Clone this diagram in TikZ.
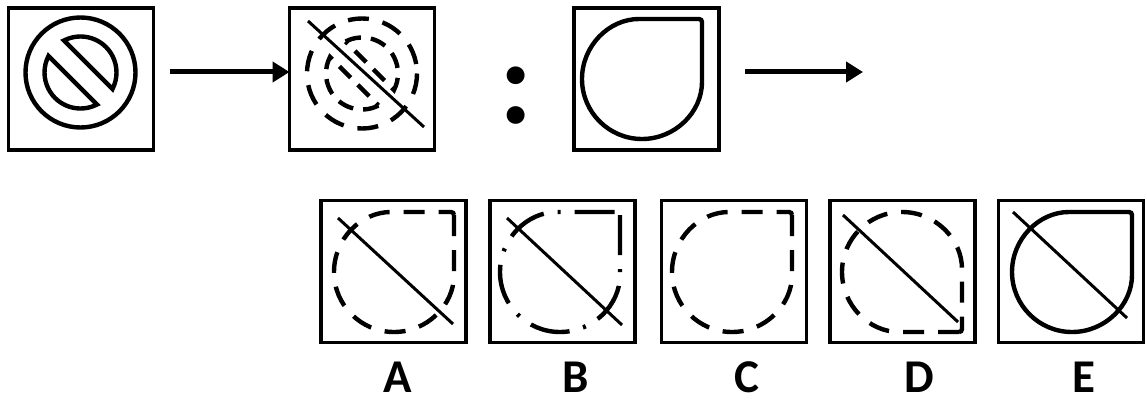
\documentclass[tikz,border=0pt]{standalone}
\usepackage{fontspec}
\setmainfont{Carlito}
\usetikzlibrary{arrows.meta}
\tikzset{
  frame/.style={draw, line width=3.6pt, minimum width=145pt, minimum height=142pt, inner sep=0pt, outer sep=0pt},
  shp/.style={line width=4.4pt},
  dsh/.style={shp, dash pattern=on 21pt off 14pt},
  dshin/.style={shp, dash pattern=on 16pt off 10pt},
  dshdot/.style={shp, dash pattern=on 40pt off 14pt on 3pt off 14pt},
  diag/.style={line width=3pt},
  arr/.style={line width=5pt, -{Triangle[length=17pt,width=20pt]}},
  lab/.style={font=\bfseries\fontsize{47}{47}\selectfont, anchor=base, inner sep=0pt},
  tear/.pic={\draw[pic actions, rounded corners=3pt] (60,-60) -- (60,0) arc[start angle=0,end angle=270,radius=60] -- cycle;},
  teard/.pic={\draw[pic actions, rounded corners=3pt] (60,60) -- (0,60) arc[start angle=90,end angle=360,radius=60] -- cycle;},
  nosign/.pic={
    \draw[pic actions] (0,0) circle[radius=55];
    \draw[pic actions] (0,0) ++(-117.2:36) arc[start angle=-117.2,end angle=27.2,radius=36] -- cycle;
    \draw[pic actions] (0,0) ++(62.8:36) arc[start angle=62.8,end angle=207.2,radius=36] -- cycle;
  },
}
\begin{document}
\begin{tikzpicture}[x=1pt,y=-1pt]
\useasboundingbox (0,0) rectangle (1147,401);
% top row
\node[frame] (box1) at (81,79) {};
\node[frame] (box2) at (362,79) {};
\node[frame] (box3) at (646.5,79) {};
\pic[shp] at (80.5,72.5) {nosign};
% box 2: dashed version with diagonal
\draw[dsh] (362,73.5) circle[radius=55];
\draw[dshin] (362,73.5) ++(-117.2:36) arc[start angle=-117.2,end angle=27.2,radius=36] -- cycle;
\draw[dshin] (362,73.5) ++(62.8:36) arc[start angle=62.8,end angle=207.2,radius=36] -- cycle;
\draw[diag] (308,21) -- (424,127);
% colon
\node[font=\bfseries\fontsize{120}{120}\selectfont, anchor=base, inner sep=0pt] (colon) at (516,124) {:};
% box 3
\pic[shp] at (642,79) {tear};
% arrows
\coordinate (a1s) at (170,72);
\coordinate (a2s) at (745,72);
\coordinate (a2e) at (863,72);
\draw[arr] (a1s) -- (box2.west |- a1s);
\draw[arr] (a2s) -- (a2e);
% bottom row
\node[frame] (boxA) at (393.5,271.5) {};
\node[frame] (boxB) at (562.5,271.5) {};
\node[frame] (boxC) at (734,271.5) {};
\node[frame] (boxD) at (902.5,271.5) {};
\node[frame] (boxE) at (1071,271.5) {};
\pic[dsh] at (394,272) {tear};
\draw[diag] (338,218) -- (453,324);
\pic[dshdot] at (560,272) {tear};
\draw[diag] (507,218) -- (622,325);
\pic[dsh] at (732,272) {tear};
\pic[dsh] at (902,272) {teard};
\draw[diag] (843,215) -- (958,322);
\pic[shp] at (1072,272) {tear};
\draw[diag] (1013,212) -- (1127,318);
% labels
\node[lab] (lA) at (398,392) {A};
\node[lab] (lB) at (576,392) {B};
\node[lab] (lC) at (747,392) {C};
\node[lab] (lD) at (919,392) {D};
\node[lab] (lE) at (1084,392) {E};
\end{tikzpicture}
\end{document}
